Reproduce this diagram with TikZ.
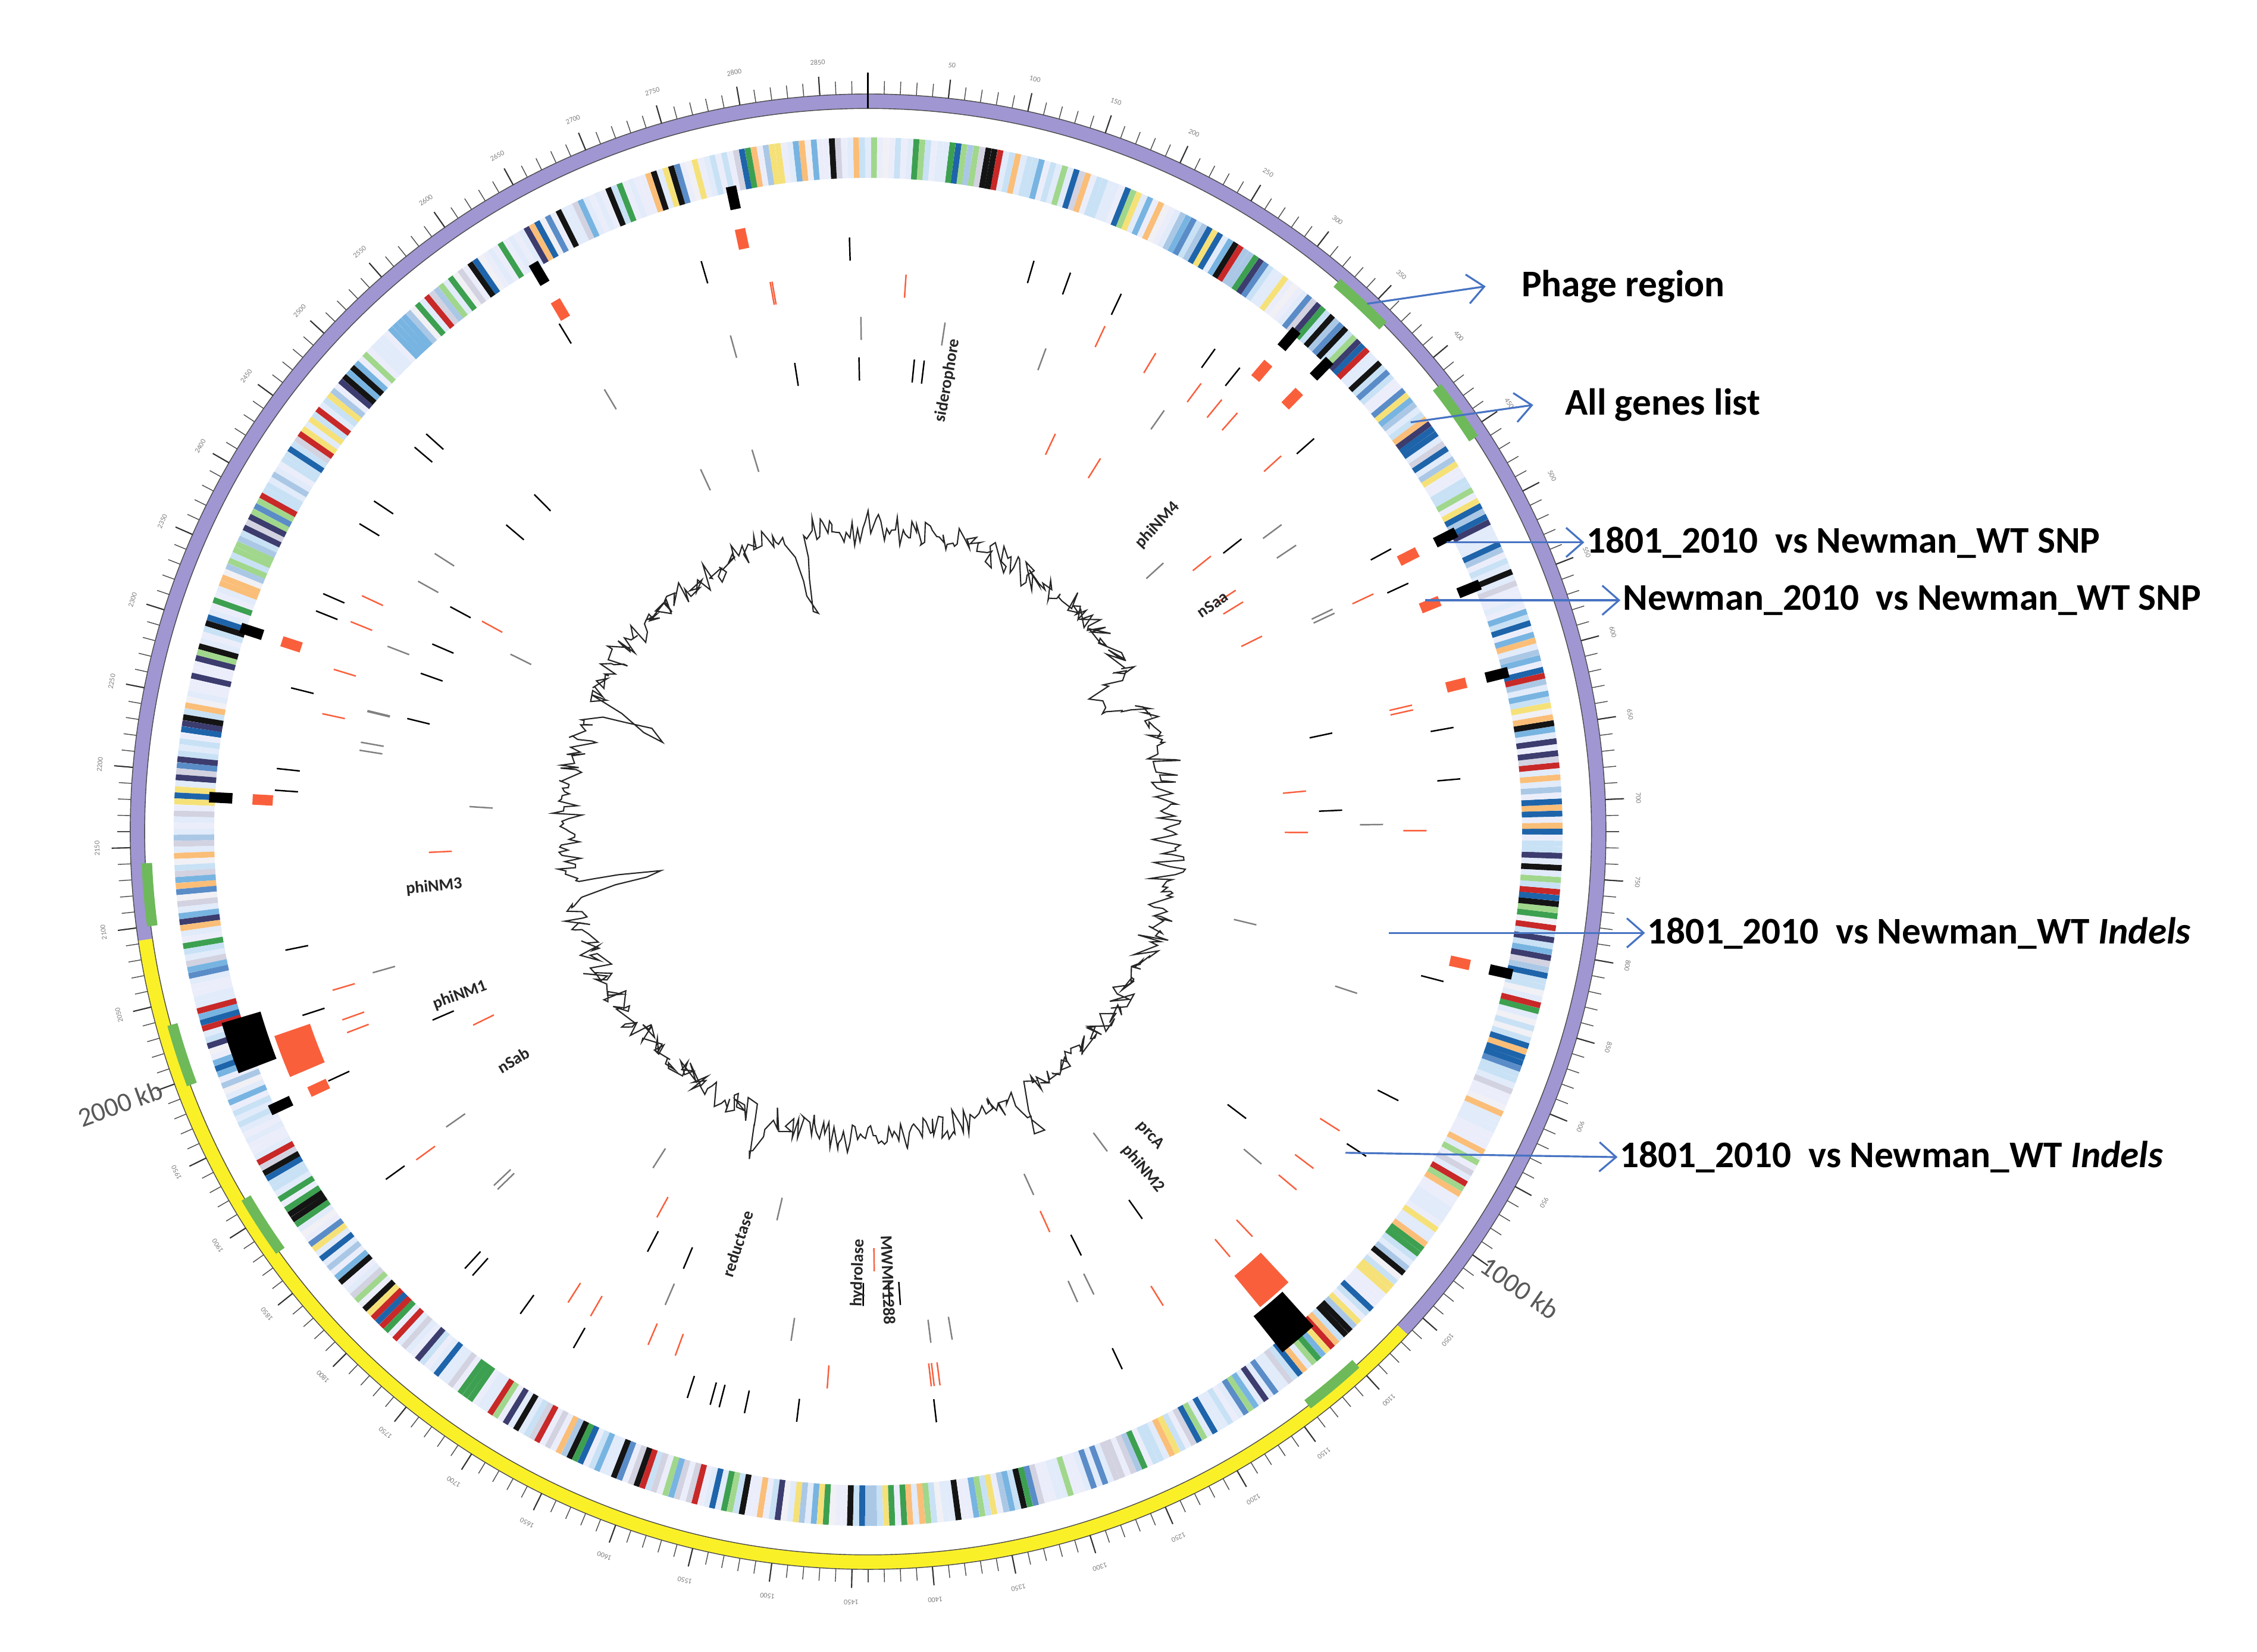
\documentclass[tikz,border=0pt]{standalone}
\usepackage{fontspec}
\setmainfont{Carlito}
\usetikzlibrary{arrows.meta}
\definecolor{ringpurple}{RGB}{160,150,210}
\definecolor{ringyellow}{RGB}{250,240,40}
\definecolor{phagegreen}{RGB}{110,185,90}
\definecolor{snpred}{RGB}{250,95,60}
\definecolor{arrowblue}{RGB}{70,115,195}
\definecolor{gc1}{RGB}{200,225,245}
\definecolor{gc2}{RGB}{235,238,250}
\definecolor{gc3}{RGB}{120,180,225}
\definecolor{gc4}{RGB}{30,100,170}
\definecolor{gc5}{RGB}{60,160,80}
\definecolor{gc6}{RGB}{160,215,140}
\definecolor{gc7}{RGB}{250,190,120}
\definecolor{gc8}{RGB}{20,20,20}
\definecolor{gc9}{RGB}{200,40,40}
\definecolor{gc10}{RGB}{240,240,245}
\definecolor{gc11}{RGB}{90,140,200}
\definecolor{gc12}{RGB}{245,225,120}
\definecolor{gc13}{RGB}{210,210,225}
\definecolor{gc14}{RGB}{170,200,230}
\definecolor{gc15}{RGB}{60,60,110}
\definecolor{gc16}{RGB}{225,235,250}
\tikzset{
  lab/.style={font=\bfseries\fontsize{18}{20}\selectfont, anchor=west, inner sep=1pt},
  arr/.style={arrowblue, line width=0.9pt, -{Straight Barb[length=8pt,width=14pt]}},
  inlab/.style={font=\bfseries\fontsize{8}{9}\selectfont, text=black!85},
  ticklab/.style={font=\fontsize{3.5}{3.5}\selectfont, text=gray},
}
\begin{document}
\begin{tikzpicture}[x=0.02431cm,y=0.02431cm]
\useasboundingbox[fill=white] (0,0) rectangle (1560,1142);
\begin{scope}[shift={(600,567)}]
% outer ring
\draw[line width=7pt, ringpurple] (90:505) arc (90:-43:505);
\draw[line width=7pt, ringyellow] (-43:505) arc (-43:-171.5:505);
\draw[line width=7pt, ringpurple] (-171.5:505) arc (-171.5:-270:505);
\draw[gray!60!black, line width=0.4pt] (0,0) circle (510);
\draw[gray!60!black, line width=0.4pt] (0,0) circle (500);
\foreach \a in {47,35.5,-50,-147,-162,-175}{
  \draw[line width=5pt, phagegreen] ({\a+2.5}:499) arc ({\a+2.5}:{\a-2.5}:499);
}
% ticks
\foreach \k in {0,...,287}{
  \pgfmathsetmacro\a{90-\k*1.25}
  \draw[black!70, line width=0.4pt] (\a:510) -- (\a:519);
}
\foreach \k in {1,...,57}{
  \pgfmathtruncatemacro\v{\k*50}
  \pgfmathsetmacro\a{90-\v*0.125}
  \draw[black!80, line width=0.6pt] (\a:510) -- (\a:523);
  \ifnum\v=1000\relax\else\ifnum\v=2000\relax\else
  \node[ticklab, rotate=\a-90] at (\a:533) {\v};
  \fi\fi
}
\draw[black, line width=0.8pt] (90:500) -- (90:525);
\node[font=\fontsize{13}{13}\selectfont, text=gray!70!black, rotate=-35] at (-35:550) {1000 kb};
\node[font=\fontsize{13}{13}\selectfont, text=gray!70!black, rotate=20] at (200:550) {2000 kb};
% gene ring
\pgfmathsetseed{7}
\foreach \i in {0,...,719}{
  \pgfmathrandominteger{\c}{1}{24}
  \ifnum\c>22 \def\c{1}\else\ifnum\c>19 \def\c{16}\else\ifnum\c>16 \def\c{2}\fi\fi\fi
  \draw[line width=2.8pt, gc\c] ({\i*0.5}:452) -- ({\i*0.5}:480);
}
% thin tracks
\foreach \r/\col/\n/\s in {395/black/40/11, 370/snpred/35/12, 340/gray/30/13, 312/black/22/14, 288/snpred/14/15, 260/gray/10/16}{
  \pgfmathsetseed{\s}
  \foreach \j in {1,...,\n}{
    \pgfmathrandominteger{\a}{0}{3599}
    \draw[\col, line width=0.7pt] ({\a/10}:\r) -- ({\a/10}:{\r+16});
  }
}
% SNP blocks
\foreach \a in {102,49.5,45.6,27,22,14,-12.5,177,162,120.5,-155}{
  \draw[black, line width=5pt] (\a:440) -- (\a:456);
  \draw[snpred, line width=5pt] (\a:412) -- (\a:426);
}
\fill[black] (-48:428) arc (-48:-51.5:428) -- (-51.5:460) arc (-51.5:-48:460) -- cycle;
\fill[snpred] (-47:398) arc (-47:-50.5:398) -- (-50.5:426) arc (-50.5:-47:426) -- cycle;
\fill[black] (-159:438) arc (-159:-163.5:438) -- (-163.5:466) arc (-163.5:-159:466) -- cycle;
\fill[snpred] (-157:408) arc (-157:-161:408) -- (-161:434) arc (-161:-157:434) -- cycle;
% GC skew plot
\pgfmathsetseed{3}
\draw[black!85, line width=0.6pt] plot[domain=0:359.5, samples=720, variable=\t]
 (\t:{205+18*rnd-9*rnd
   -70*max(0,1-abs(\t-191)/1.5)
   -55*max(0,1-abs(\t-156)/1.5)
   -60*max(0,1-abs(\t-104)/2)
   -35*max(0,1-abs(\t-28)/3)
   +40*max(0,1-abs(\t+54)/2)
   +35*max(0,1-abs(\t-250)/2)
   +30*max(0,1-abs(\t-300)/2)}) -- cycle;
% inner labels
\node[inlab, rotate=80] (sid) at (55,312) {siderophore};
\node[inlab, rotate=47] (nm4) at (200,212) {phiNM4};
\node[inlab, rotate=35] (nsaa) at (238,157) {nSaa};
\node[inlab, rotate=6] (nm3) at (-300,-38) {phiNM3};
\node[inlab, rotate=20] (nm1) at (-282,-113) {phiNM1};
\node[inlab, rotate=31] (nsab) at (-245,-158) {nSab};
\node[inlab, rotate=-47] (prca) at (195,-210) {prcA};
\node[inlab, rotate=-50] (nm2) at (190,-233) {phiNM2};
\node[inlab, rotate=72] (red) at (-90,-285) {reductase};
\node[inlab, rotate=88] (hyd) at (-7,-305) {hydrolase};
\node[inlab, rotate=-88] (mw) at (14,-310) {MWMN1288};
% arrow start points
\coordinate (p1) at (345,365);
\coordinate (p2) at (375,283);
\coordinate (p3) at (400,200);
\coordinate (p4) at (385,160);
\coordinate (p5) at (360,-70);
\coordinate (p6) at (330,-222);
\end{scope}
% right labels
\node[lab] (t1) at (1050,944) {Phage region};
\node[lab] (t2) at (1080,862) {All genes list};
\node[lab] (t3) at (1095,767) {1801\_2010~~vs Newman\_WT SNP};
\node[lab] (t4) at (1120,727) {Newman\_2010~~vs Newman\_WT SNP};
\node[lab] (t5) at (1137,497) {1801\_2010~~vs Newman\_WT \textit{Indels}};
\node[lab] (t6) at (1118,342) {1801\_2010~~vs Newman\_WT \textit{Indels}};
\draw[arr] (p1) -- ([xshift=-16]t1.west);
\draw[arr] (p2) -- ([xshift=-14]t2.west);
\draw[arr] (p3) -- (t3.west);
\draw[arr] (p4) -- (t4.west);
\draw[arr] (p5) -- (t5.west);
\draw[arr] (p6) -- (t6.west);
\end{tikzpicture}
\end{document}
